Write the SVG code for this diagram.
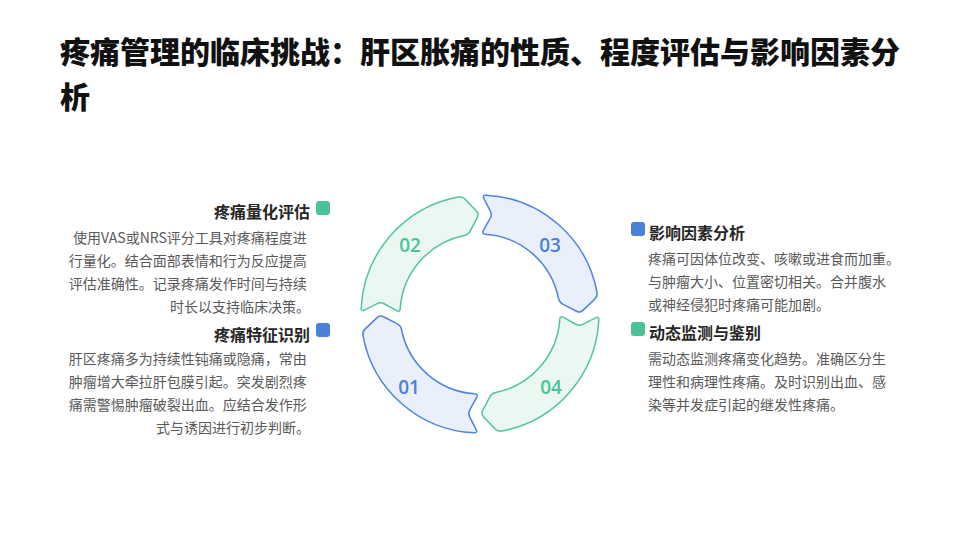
<svg xmlns="http://www.w3.org/2000/svg" width="960" height="540" viewBox="0 0 960 540">
<style>
.title{font-family:"Noto Sans CJK SC","Noto Sans",sans-serif;font-weight:900;font-size:30px;fill:#111111}
.h{font-family:"Noto Sans CJK SC","Noto Sans",sans-serif;font-weight:700;font-size:16px;fill:#262626}
.b{font-family:"Noto Sans CJK SC","Noto Sans",sans-serif;font-size:14px;fill:#595959}
.num{font-family:"Open Sans","Noto Sans",sans-serif;font-weight:600;font-size:19px;text-anchor:middle}
.segG{fill:#ebf8f2;stroke:#52c49c;stroke-width:1.5;stroke-linejoin:round}
.segB{fill:#e9f0fc;stroke:#4f85dd;stroke-width:1.5;stroke-linejoin:round}
.g{fill:#4cc29a}
.bl{fill:#4a80d8}
</style>
<defs>
<path id="seg" d="M102.82,10.37 L115.42,3.9 Q118.98,2.08 118.84,6.08 A119,119 0 0 1 21.54,117.04 Q17.59,117.69 14.84,114.78 L3.62,102.91 Q0.87,100 2.73,96.46 L9.96,82.66 Q11.82,79.12 15.76,78.43 A80,80 0 0 0 79.82,5.39 Q79.99,1.4 83.48,3.35 L95.77,10.24 Q99.26,12.19 102.82,10.37 Z"/>
</defs>
<rect width="960" height="540" fill="#ffffff"/>
<g id="title">
<text class="title" x="60" y="63">疼痛管理的临床挑战：肝区胀痛的性质、程度评估与影响因素分</text>
<text class="title" x="60" y="108">析</text>
</g>
<g id="ring">
<g id="seg01">
<use href="#seg" class="segB" transform="translate(480,314) rotate(90)"/>
<text class="num bl" x="409" y="393.5">01</text>
</g>
<g id="seg02">
<use href="#seg" class="segG" transform="translate(480,314) rotate(180)"/>
<text class="num g" x="410" y="251.5">02</text>
</g>
<g id="seg03">
<use href="#seg" class="segB" transform="translate(480,314) rotate(270)"/>
<text class="num bl" x="550" y="251.5">03</text>
</g>
<g id="seg04">
<use href="#seg" class="segG" transform="translate(480,314)"/>
<text class="num g" x="551" y="393.5">04</text>
</g>
</g>
<g id="item-quantify">
<rect x="316" y="201" width="14" height="14" rx="3" class="g"/>
<text class="h" x="310" y="218" text-anchor="end">疼痛量化评估</text>
<text class="b" text-anchor="end">
<tspan x="310" y="243">使用VAS或NRS评分工具对疼痛程度进</tspan>
<tspan x="310" y="266">行量化。结合面部表情和行为反应提高</tspan>
<tspan x="310" y="289">评估准确性。记录疼痛发作时间与持续</tspan>
<tspan x="310" y="312">时长以支持临床决策。</tspan>
</text>
</g>
<g id="item-identify">
<rect x="316" y="323" width="14" height="14" rx="3" class="bl"/>
<text class="h" x="310" y="341" text-anchor="end">疼痛特征识别</text>
<text class="b" text-anchor="end">
<tspan x="310" y="364">肝区疼痛多为持续性钝痛或隐痛，常由</tspan>
<tspan x="310" y="387">肿瘤增大牵拉肝包膜引起。突发剧烈疼</tspan>
<tspan x="310" y="410">痛需警惕肿瘤破裂出血。应结合发作形</tspan>
<tspan x="310" y="433">式与诱因进行初步判断。</tspan>
</text>
</g>
<g id="item-factors">
<rect x="631" y="222" width="14" height="14" rx="3" class="bl"/>
<text class="h" x="649" y="239">影响因素分析</text>
<text class="b">
<tspan x="648" y="264">疼痛可因体位改变、咳嗽或进食而加重。</tspan>
<tspan x="648" y="287">与肿瘤大小、位置密切相关。合并腹水</tspan>
<tspan x="648" y="310">或神经侵犯时疼痛可能加剧。</tspan>
</text>
</g>
<g id="item-monitor">
<rect x="631" y="322" width="14" height="14" rx="3" class="g"/>
<text class="h" x="649" y="339">动态监测与鉴别</text>
<text class="b">
<tspan x="648" y="364">需动态监测疼痛变化趋势。准确区分生</tspan>
<tspan x="648" y="387">理性和病理性疼痛。及时识别出血、感</tspan>
<tspan x="648" y="410">染等并发症引起的继发性疼痛。</tspan>
</text>
</g>
</svg>
